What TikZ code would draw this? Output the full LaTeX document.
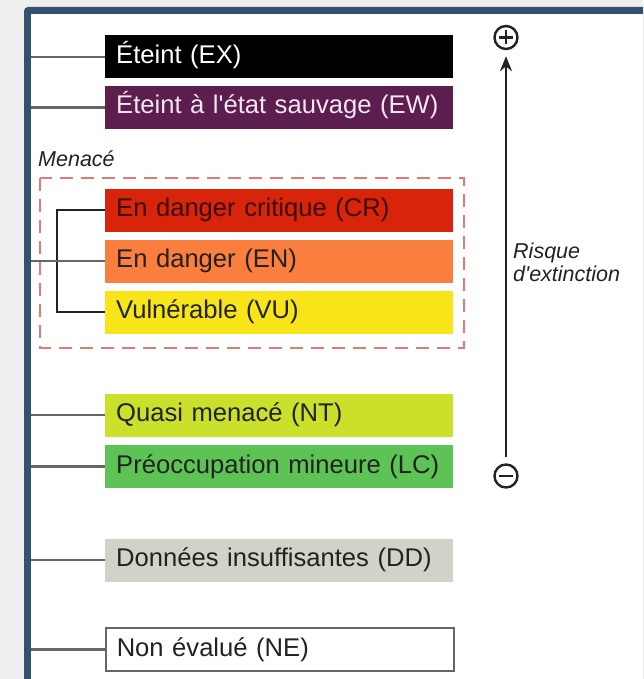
\documentclass[tikz,border=0pt]{standalone}
\usepackage{fontspec}
\setmainfont{Liberation Sans}
\usepackage{xcolor}
\usepackage{tikz}
\usetikzlibrary{arrows.meta,calc}
\definecolor{bg}{HTML}{EEEEEE}
\definecolor{frame}{HTML}{33526D}
\definecolor{ex}{HTML}{000000}
\definecolor{ew}{HTML}{5C1E4E}
\definecolor{cr}{HTML}{D8240A}
\definecolor{en}{HTML}{FA7F3E}
\definecolor{vu}{HTML}{F7E51A}
\definecolor{nt}{HTML}{CBE02A}
\definecolor{lc}{HTML}{5EC355}
\definecolor{dd}{HTML}{D3D2C9}
\definecolor{linkgray}{HTML}{666666}
\definecolor{dark}{HTML}{222222}
\definecolor{dashred}{HTML}{E07A72}
\definecolor{crtext}{HTML}{3A0C04}
\definecolor{ewtext}{HTML}{F4E6F0}
\tikzset{
  catbox/.style={anchor=west, inner xsep=11pt, inner ysep=0pt, text width=326pt,
    align=left, minimum height=43pt, text height=18pt, text depth=5pt,
    font=\fontsize{25.6}{30}\selectfont, text=dark},
  link/.style={draw=linkgray, line width=2.5pt},
  bracket/.style={draw=dark, line width=2.2pt},
  menace/.style={draw=dashred, line width=2.4pt, dash pattern=on 13pt off 8pt},
  sign/.style={circle, draw=dark, line width=2.4pt, minimum size=23pt, inner sep=0pt},
  signline/.style={draw=dark, line width=2.8pt},
  risk/.style={draw=dark, line width=2.2pt, -{Stealth[length=15pt, width=12pt]}},
  lab/.style={font=\fontsize{21.5}{23}\selectfont\itshape, text=dark, inner sep=0pt}
}
\begin{document}
\begin{tikzpicture}[x=1pt, y=-1pt]
  \useasboundingbox (0,0) rectangle (643,679);
  \clip (0,0) rectangle (643,679);
  \fill[bg] (0,0) rectangle (643,679);
  \fill[frame, rounded corners=4pt] (24,7) rectangle (700,720);
  \fill[white] (31,14) rectangle (700,720);

  \coordinate (lft) at (31,0);
  \coordinate (brk) at (57,0);

  % categories
  \node[catbox, fill=ex, text=white] (ex) at (105,57) {Éteint (EX)};
  \node[catbox, fill=ew, text=ewtext] (ew) at (105,107.5) {Éteint à l\textquotesingle état sauvage (EW)};
  \node[catbox, fill=cr, text=crtext] (cr) at (105,210) {En danger critique (CR)};
  \node[catbox, fill=en] (en) at (105,261) {En danger (EN)};
  \node[catbox, fill=vu] (vu) at (105,312) {Vulnérable (VU)};
  \node[catbox, fill=nt] (nt) at (105,415) {Quasi menacé (NT)};
  \node[catbox, fill=lc] (lc) at (105,466.5) {Préoccupation mineure (LC)};
  \node[catbox, fill=dd] (dd) at (105,560) {Données insuffisantes (DD)};
  \node[catbox, fill=white, draw=linkgray, line width=1.5pt] (ne) at (105,649.5) {Non évalué (NE)};

  % threatened group
  \node[lab, anchor=base west] (menace) at (38,167) {Menacé};
  \draw[menace] (40,178) rectangle (464,348);
  \draw[bracket] (cr.west) -- (cr.west -| brk) -- (vu.west -| brk) -- (vu.west);

  % links to the frame
  \draw[link] (lft |- ex.west) -- (ex.west);
  \draw[link] (lft |- ew.west) -- (ew.west);
  \draw[link] (lft |- en.west) -- (en.west);
  \draw[link] (lft |- nt.west) -- (nt.west);
  \draw[link] (lft |- lc.west) -- (lc.west);
  \draw[link] (lft |- dd.west) -- (dd.west);
  \draw[link] (lft |- ne.west) -- (ne.west);

  % risk axis
  \node[sign] (plus) at (506,37.5) {};
  \draw[signline] ($(plus.center)+(-7,0)$) -- ($(plus.center)+(7,0)$);
  \draw[signline] ($(plus.center)+(0,-7)$) -- ($(plus.center)+(0,7)$);
  \node[sign] (minus) at (506,476) {};
  \draw[signline] ($(minus.center)+(-7,0)$) -- ($(minus.center)+(7,0)$);
  \draw[risk, shorten <=6.5pt, shorten >=6pt] (minus) -- (plus);
  \node[lab, anchor=north west, align=left] (risque) at (513,243) {Risque\\d\textquotesingle extinction};
\end{tikzpicture}
\end{document}
